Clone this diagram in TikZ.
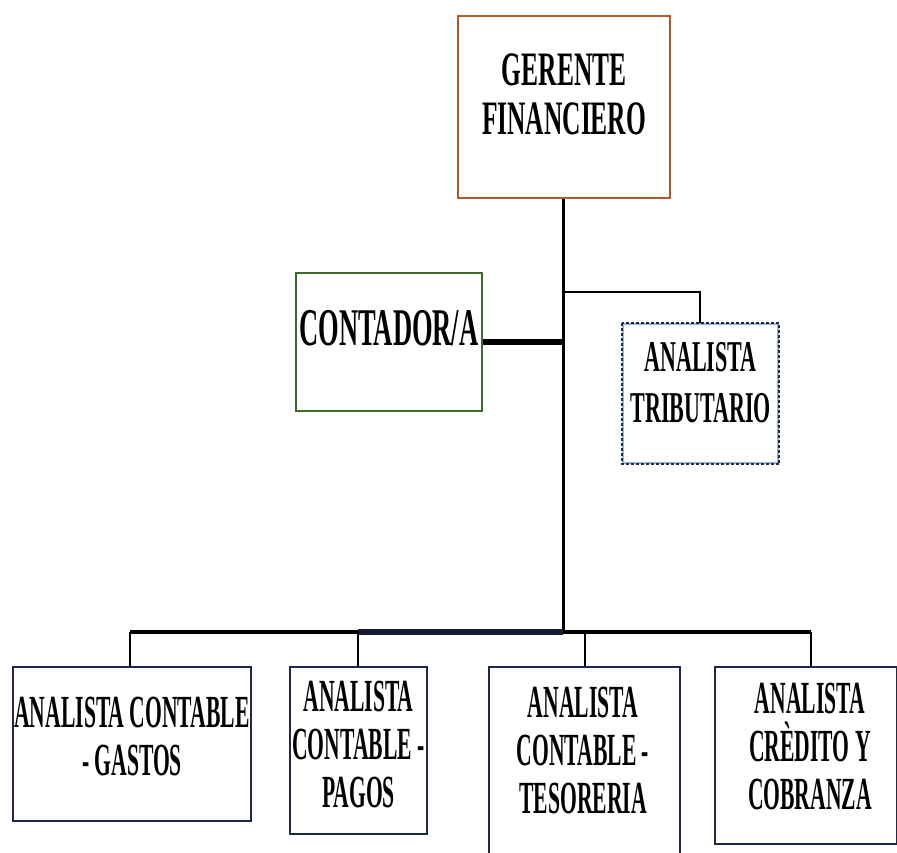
\documentclass[tikz,border=0pt]{standalone}
\usepackage{fontspec}
\setmainfont{Liberation Serif}
\newfontfamily\headfont{Liberation Serif}[FakeStretch=0.53]
\newfontfamily\midfont{Liberation Serif}[FakeStretch=0.50]
\newfontfamily\unitfont{Liberation Serif}[FakeStretch=0.47]
\definecolor{headframe}{RGB}{184,86,46}
\definecolor{accframe}{RGB}{58,108,40}
\definecolor{navyframe}{RGB}{30,40,72}
\definecolor{dashback}{RGB}{150,180,215}
\begin{document}
\begin{tikzpicture}[x=1pt,y=-1pt,
  frame/.style={anchor=north west, inner sep=0pt, fill=white},
  unitbox/.style={frame, draw=navyframe, line width=2pt},
  headtext/.style={font=\headfont\bfseries\fontsize{48}{49}\selectfont, align=center, inner sep=0pt},
  midtext/.style={font=\midfont\bfseries\fontsize{44}{51}\selectfont, align=center, inner sep=0pt},
  unittext/.style={font=\unitfont\bfseries\fontsize{46}{48}\selectfont, align=center, inner sep=0pt},
  link/.style={line width=2pt, black},
  trunk/.style={line width=3pt, black},
  bus/.style={line width=3.5pt, black}]
\fill[white] (0,0) rectangle (897,852);
\useasboundingbox (0,0) rectangle (897,852);
\begin{scope}
\clip (0,0) rectangle (897,852);

% junction points of the connectors
\coordinate (tribJ) at (563,292);
\coordinate (busC) at (563,632);
\coordinate (busL) at (130,632);
\coordinate (busP) at (358,632);
\coordinate (busT) at (585,632);
\coordinate (busR) at (811,632);

% trunk and side branches (drawn first, boxes cover the ends)
\draw[trunk] (563,197) -- (busC);
\draw[link] (tribJ) -- (700,292) -- (700,323);
\draw[bus] (busL) -- (busR);
\draw[line width=5.5pt, navyframe!70!black] (busP) -- (busC);
\draw[link] (busL) -- (130,666);
\draw[link] (busP) -- (358,666);
\draw[link] (busT) -- (585,666);
\draw[link] (busR) -- (811,666);

% head box
\node[frame, draw=headframe, line width=2.2pt, minimum width=212pt, minimum height=182pt] (ger) at (457,15) {};
\node[headtext] (gerT) at ([yshift=13pt]ger.center) {GERENTE\\FINANCIERO};

% accountant
\node[frame, draw=accframe, line width=1.8pt, minimum width=186pt, minimum height=138pt] (cont) at (295,272) {};
\node[midtext, font=\midfont\bfseries\fontsize{53}{55}\selectfont] (contT) at ([yshift=14pt]cont.center) {CONTADOR/A};
\draw[line width=5.5pt, black] (cont.east) -- (cont.east -| busC);

% tax analyst (dotted frame)
\node[frame, draw=dashback, line width=2.2pt, minimum width=155pt, minimum height=139pt] (trib) at (622,323) {};
\draw[navyframe, line width=2.2pt, dash pattern=on 3pt off 2pt] (trib.north west) rectangle (trib.south east);
\node[midtext] (tribT) at ([yshift=11pt]trib.center) {ANALISTA\\TRIBUTARIO};

% bottom row of analysts
\node[unitbox, minimum width=238pt, minimum height=154pt] (gastos) at (12,666) {};
\node[unittext] (gastosT) at ([yshift=8pt]gastos.center) {ANALISTA CONTABLE\\- GASTOS};

\node[unitbox, minimum width=137pt, minimum height=167pt] (pagos) at (289,666) {};
\node[unittext] (pagosT) at ([yshift=6pt]pagos.center) {ANALISTA\\CONTABLE -\\PAGOS};

\node[unitbox, minimum width=191pt, minimum height=210pt] (teso) at (488,666) {};
\node[unittext] (tesoT) at (583,750) {ANALISTA\\CONTABLE -\\TESORERIA};

\node[unitbox, minimum width=182pt, minimum height=177pt] (cred) at (714,666) {};
\node[unittext] (credT) at ([xshift=4pt,yshift=9pt]cred.center) {ANALISTA\\CRÈDITO Y\\COBRANZA};
\end{scope}
\end{tikzpicture}
\end{document}
